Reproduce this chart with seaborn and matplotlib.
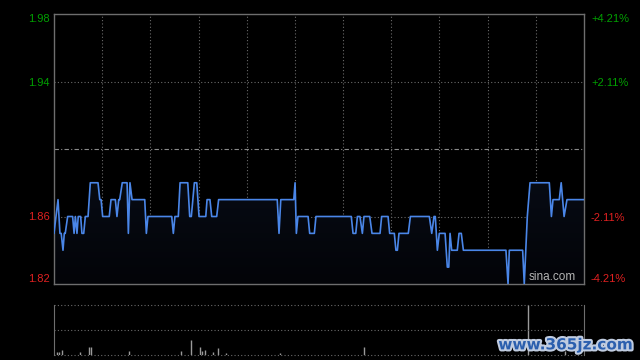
import numpy as np
import pandas as pd
import matplotlib
matplotlib.use('Agg')
import matplotlib.pyplot as plt
import matplotlib.patheffects as pe
from matplotlib.colors import LinearSegmentedColormap
import seaborn as sns

# minutes since open (lunch removed) at each turn of the price line, and the price there
t_min = [0, 2.5, 3.7, 4.5, 5.6, 6.4, 7.0, 8.5, 11.6, 12.5, 13.3, 14.3, 15.1, 16.6, 17.4,
         18.5, 19.5, 21.2, 22.6, 27.4, 28.5, 29.3, 30.3, 34.4, 35.5, 38.2, 39.2, 40.3, 40.9,
         42.5, 45.5, 46.3, 47.3, 48.6, 56.5, 57.5, 58.5,
         73.3, 74.3, 75.3, 77.4, 78.5, 83.3, 84.5, 85.5, 87.4, 88.9, 90.3, 94.5, 95.3, 97.1,
         98.2, 101.3, 102.5,
         139.0, 140.1, 141.2, 149.3, 150.1, 150.9, 151.9, 158.2, 159.2, 162.1, 163.1, 185.1,
         186.2, 187.9, 188.9, 190.5, 192.0, 193.0, 196.6, 198.0,
         203.0, 204.0, 208.0, 209.0, 211.9, 212.9, 213.8, 214.8, 220.6, 221.9, 233.7, 235.2,
         236.6, 237.4, 238.7, 239.9, 243.5, 244.9, 245.8, 246.6, 247.6, 251.1, 252.2, 253.6,
         254.9, 281.4, 282.7, 283.5, 291.8, 292.8, 294.7, 296.4, 308.4, 309.7, 310.7, 314.6,
         315.8, 317.6, 319.4, 330]
price = [1.85, 1.87, 1.85, 1.85, 1.84, 1.85, 1.85, 1.86, 1.86, 1.85, 1.86, 1.85, 1.86, 1.86, 1.85,
         1.85, 1.86, 1.86, 1.88, 1.88, 1.87, 1.87, 1.86, 1.86, 1.87, 1.87, 1.86, 1.87, 1.87,
         1.88, 1.88, 1.85, 1.88, 1.87, 1.87, 1.85, 1.86,
         1.86, 1.85, 1.86, 1.86, 1.88, 1.88, 1.86, 1.86, 1.88, 1.88, 1.86, 1.86, 1.87, 1.87,
         1.86, 1.86, 1.87,
         1.87, 1.85, 1.87, 1.87, 1.88, 1.85, 1.86, 1.86, 1.85, 1.85, 1.86, 1.86,
         1.85, 1.85, 1.86, 1.86, 1.85, 1.86, 1.86, 1.85,
         1.85, 1.86, 1.86, 1.85, 1.85, 1.84, 1.84, 1.85, 1.85, 1.86, 1.86, 1.85,
         1.86, 1.86, 1.84, 1.85, 1.85, 1.83, 1.83, 1.85, 1.84, 1.84, 1.85, 1.85,
         1.84, 1.84, 1.82, 1.84, 1.84, 1.82, 1.86, 1.88, 1.88, 1.86, 1.87, 1.87,
         1.88, 1.86, 1.87, 1.87]
prev_close = 1.90

# volume bars (relative, top of panel = 100)
vol_min = [2, 3, 5, 16, 22, 23, 47, 79, 85, 91, 92, 94, 99, 102, 107, 141, 193, 295, 318]
vol = [6, 6, 10, 6, 16, 16, 8, 8, 30, 16, 8, 10, 6, 14, 4, 4, 16, 100, 8]

price_ticks = [1.82, 1.86, 1.94, 1.98]
tick_colors = ['#e02020', '#e02020', '#00a000', '#00a000']

sns.set_style('dark')
plt.rcParams['font.family'] = ['Liberation Sans', 'DejaVu Sans']

fig = plt.figure(figsize=(6.4, 3.6), dpi=100, facecolor='black')
ax = fig.add_axes([54 / 640, 1 - 284 / 360, 530 / 640, 270 / 360])
axv = fig.add_axes([54 / 640, 1 - 354.5 / 360, 530 / 640, 50 / 360])

df = pd.DataFrame({'t': t_min, 'price': price})
ax.set_facecolor('black')

# gradient fill under the line
poly = ax.fill_between(df['t'], df['price'], 1.82, color='none')
cmap = LinearSegmentedColormap.from_list('fill', ['#030408', '#0e1628'])
grad = np.linspace(0, 1, 100).reshape(-1, 1)
img = ax.imshow(grad, extent=[0, 330, 1.82, 1.98], aspect='auto', cmap=cmap, origin='lower', zorder=1)
img.set_clip_path(poly.get_paths()[0], ax.transData)

# grid
for t in range(30, 330, 30):
    ax.axvline(t, color='#6a6a6a', ls=(0, (1, 2)), lw=0.8, zorder=0.5)
for p in [1.94, 1.86]:
    ax.axhline(p, color='#6a6a6a', ls=(0, (1, 2)), lw=0.8, zorder=0.5)
ax.axhline(prev_close, color='#8a8a8a', ls=(0, (4, 2, 1, 2)), lw=0.8, zorder=0.5)

sns.lineplot(data=df, x='t', y='price', ax=ax, color='#4a86e8', lw=1.2,
             estimator=None, sort=False, zorder=3)

ax.set_xlim(0, 330)
ax.set_ylim(1.82, 1.98)
ax.set_xticks([])
ax.set_xlabel('')
ax.set_ylabel('')
ax.set_yticks(price_ticks)
ax.set_yticklabels(['%.2f' % p for p in price_ticks], fontsize=8)
ax.tick_params(axis='y', length=0, pad=3)
for lab, c in zip(ax.get_yticklabels(), tick_colors):
    lab.set_color(c)
ax.get_yticklabels()[0].set_va('bottom')
ax.get_yticklabels()[-1].set_va('top')
for s in ax.spines.values():
    s.set_visible(True)
    s.set_color('#6e6e6e')
    s.set_linewidth(1)

# percentage axis on the right
axr = ax.twinx()
pct = [(p / prev_close - 1) * 100 for p in price_ticks]
axr.set_ylim((1.82 / prev_close - 1) * 100, (1.98 / prev_close - 1) * 100)
axr.set_yticks(pct)
axr.set_yticklabels(['%+.2f%%' % v for v in pct], fontsize=8)
axr.tick_params(axis='y', length=0, pad=5)
for lab, c in zip(axr.get_yticklabels(), tick_colors):
    lab.set_color(c)
axr.get_yticklabels()[0].set_va('bottom')
axr.get_yticklabels()[-1].set_va('top')
for s in axr.spines.values():
    s.set_visible(False)
axr.grid(False)

ax.text(0.985, 0.005, 'sina.com', transform=ax.transAxes, ha='right', va='bottom',
        fontsize=8.5, color='#b4b4b4', zorder=5)

# volume panel
axv.set_facecolor('black')
axv.vlines(vol_min, 0, vol, color='#9a9a9a', lw=1)
for v in [100, 50, 0]:
    axv.axhline(v, color='#6a6a6a', ls=(0, (1, 2)), lw=0.8, clip_on=False)
axv.set_xlim(0, 330)
axv.set_ylim(0, 100)
axv.set_xticks([])
axv.set_yticks([])
axv.grid(False)
for k in ['top', 'bottom']:
    axv.spines[k].set_visible(False)
for k in ['left', 'right']:
    axv.spines[k].set_visible(True)
    axv.spines[k].set_color('#6e6e6e')

fig.text(0.988, 0.042, 'www.365jz.com', ha='right', va='center', fontsize=11,
         fontweight='bold', color='#2b5fae', family='DejaVu Sans',
         path_effects=[pe.withStroke(linewidth=3, foreground='#c0cce0')])

fig.savefig('out.png', dpi=100, facecolor='black')
